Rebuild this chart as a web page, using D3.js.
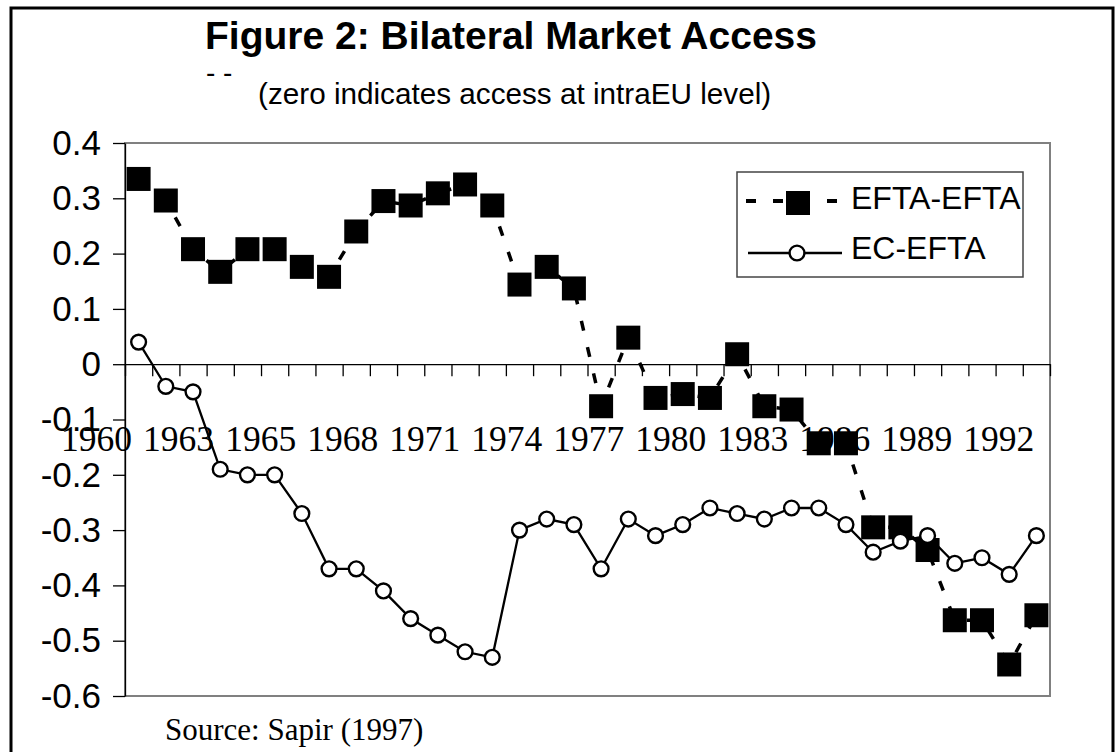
<!DOCTYPE html>
<html>
<head>
<meta charset="utf-8">
<script src="https://cdn.jsdelivr.net/npm/d3@7"></script>
<style>
  body { margin: 0; background: #fff; }
  svg { display: block; }
</style>
</head>
<body>
<div class="svg-container"></div>
<script>
// category tick labels (Excel shows every 3rd category)
var tickLabels = ["1960", "1963", "1965", "1968", "1971", "1974", "1977", "1980", "1983", "1986", "1989", "1992"];
var labelEvery = 3;

var eftaEfta = [0.335, 0.296, 0.208, 0.167, 0.208, 0.208, 0.176, 0.158, 0.240, 0.295,
                0.287, 0.309, 0.325, 0.287, 0.144, 0.176, 0.137, -0.076, 0.048, -0.061,
                -0.054, -0.061, 0.018, -0.076, -0.082, -0.143, -0.143, -0.295, -0.295, -0.336,
                -0.463, -0.463, -0.543, -0.454];

var ecEfta = [0.04, -0.04, -0.05, -0.19, -0.20, -0.20, -0.27, -0.37, -0.37, -0.41,
              -0.46, -0.49, -0.52, -0.53, -0.30, -0.28, -0.29, -0.37, -0.28, -0.31,
              -0.29, -0.26, -0.27, -0.28, -0.26, -0.26, -0.29, -0.34, -0.32, -0.31,
              -0.36, -0.35, -0.38, -0.31];

var yTicks = [0.4, 0.3, 0.2, 0.1, 0, -0.1, -0.2, -0.3, -0.4, -0.5, -0.6];
var seriesNames = ["EFTA-EFTA", "EC-EFTA"];

var width = 1120, height = 752;
var plot = {left: 125, right: 1050, top: 143, bottom: 696};
var sans = "'Liberation Sans', Arial, sans-serif";
var serif = "'Liberation Serif', 'Times New Roman', serif";

var svg = d3.select(".svg-container").append("svg")
            .attr("width", width)
            .attr("height", height)
            .style("background-color", "#fff");

var x = d3.scaleBand()
          .domain(eftaEfta.map(function(d, i) { return i; }))
          .range([plot.left, plot.right])
          .paddingInner(0).paddingOuter(0);
var xEdge = d3.scaleLinear().domain([0, eftaEfta.length]).range([plot.left, plot.right]);
var y = d3.scaleLinear().domain([-0.6, 0.4]).range([plot.bottom, plot.top]);

function cx(i) { return x(i) + x.bandwidth() / 2; }

// outer frame
svg.append("rect")
   .attr("x", 11).attr("y", 8)
   .attr("width", 1102).attr("height", 800)
   .attr("fill", "none").attr("stroke", "#000").attr("stroke-width", 3);

// titles
svg.append("text")
   .attr("x", 511).attr("y", 49)
   .attr("text-anchor", "middle")
   .style("font-family", sans).style("font-weight", "bold").style("font-size", "39px")
   .text("Figure 2: Bilateral Market Access");

svg.append("text")
   .attr("x", 206).attr("y", 82)
   .style("font-family", sans).style("font-size", "28px")
   .text("- -");

svg.append("text")
   .attr("x", 258).attr("y", 104)
   .style("font-family", sans).style("font-size", "29.7px")
   .text("(zero indicates access at intraEU level)");

// plot frame (grey)
svg.append("rect")
   .attr("x", plot.left).attr("y", plot.top)
   .attr("width", plot.right - plot.left).attr("height", plot.bottom - plot.top)
   .attr("fill", "none").attr("stroke", "#808080").attr("stroke-width", 2);

// y axis
var yAxis = svg.append("g")
   .attr("transform", "translate(" + plot.left + ",0)")
   .call(d3.axisLeft(y).tickValues(yTicks).tickSize(12).tickSizeOuter(0).tickPadding(12)
           .tickFormat(function(d) { return d === 0 ? "0" : d.toFixed(1); }));
yAxis.selectAll("path, line").attr("stroke", "#000").attr("stroke-width", 1.3);
yAxis.selectAll("text")
     .style("font-family", sans).style("font-size", "35px").attr("fill", "#000");

// x axis along zero
var xAxis = svg.append("g")
   .attr("transform", "translate(0," + y(0) + ")")
   .call(d3.axisBottom(xEdge).tickValues(d3.range(eftaEfta.length + 1)).tickSize(12)
           .tickSizeOuter(0).tickFormat(""));
xAxis.selectAll("path, line").attr("stroke", "#000").attr("stroke-width", 1.3);

// category labels (drawn low, overlapping like the original)
svg.append("g").selectAll("text")
   .data(tickLabels)
   .enter()
   .append("text")
   .attr("x", function(d, i) { return cx(i * labelEvery) - 42 + i * 0.4; })
   .attr("y", 451)
   .attr("text-anchor", "middle")
   .style("font-family", serif).style("font-size", "35.5px")
   .text(function(d) { return d; });

// EFTA-EFTA dashed line + squares
var line = d3.line().x(function(d, i) { return cx(i); }).y(function(d) { return y(d); });

svg.append("path")
   .datum(eftaEfta)
   .attr("d", line)
   .attr("fill", "none").attr("stroke", "#000")
   .attr("stroke-width", 3.5).attr("stroke-dasharray", "10,17");

var sq = 24;
svg.append("g").selectAll("rect")
   .data(eftaEfta)
   .enter()
   .append("rect")
   .attr("x", function(d, i) { return cx(i) - sq / 2; })
   .attr("y", function(d) { return y(d) - sq / 2; })
   .attr("width", sq).attr("height", sq)
   .attr("fill", "#000");

// EC-EFTA solid line + circles
svg.append("path")
   .datum(ecEfta)
   .attr("d", line)
   .attr("fill", "none").attr("stroke", "#000").attr("stroke-width", 2.3);

svg.append("g").selectAll("circle")
   .data(ecEfta)
   .enter()
   .append("circle")
   .attr("cx", function(d, i) { return cx(i); })
   .attr("cy", function(d) { return y(d); })
   .attr("r", 7.4)
   .attr("fill", "#fff").attr("stroke", "#000").attr("stroke-width", 2.4);

// legend
var legend = svg.append("g");
legend.append("rect")
      .attr("x", 737).attr("y", 172).attr("width", 286).attr("height", 105)
      .attr("fill", "#fff").attr("stroke", "#444").attr("stroke-width", 1.5);

legend.append("line")
      .attr("x1", 746).attr("x2", 840).attr("y1", 201).attr("y2", 201)
      .attr("stroke", "#000").attr("stroke-width", 4).attr("stroke-dasharray", "10,17");
legend.append("rect")
      .attr("x", 786).attr("y", 191).attr("width", sq).attr("height", sq)
      .attr("fill", "#000");
legend.append("line")
      .attr("x1", 748).attr("x2", 842).attr("y1", 253).attr("y2", 253)
      .attr("stroke", "#000").attr("stroke-width", 2.3);
legend.append("circle")
      .attr("cx", 797).attr("cy", 253).attr("r", 7.4)
      .attr("fill", "#fff").attr("stroke", "#000").attr("stroke-width", 2.4);

legend.selectAll("text")
      .data(seriesNames)
      .enter()
      .append("text")
      .attr("x", 851)
      .attr("y", function(d, i) { return 209 + i * 50; })
      .style("font-family", sans).style("font-size", "32px")
      .text(function(d) { return d; });

// source note
svg.append("text")
   .attr("x", 165).attr("y", 740)
   .style("font-family", serif).style("font-size", "31px")
   .text("Source: Sapir (1997)");
</script>
</body>
</html>
